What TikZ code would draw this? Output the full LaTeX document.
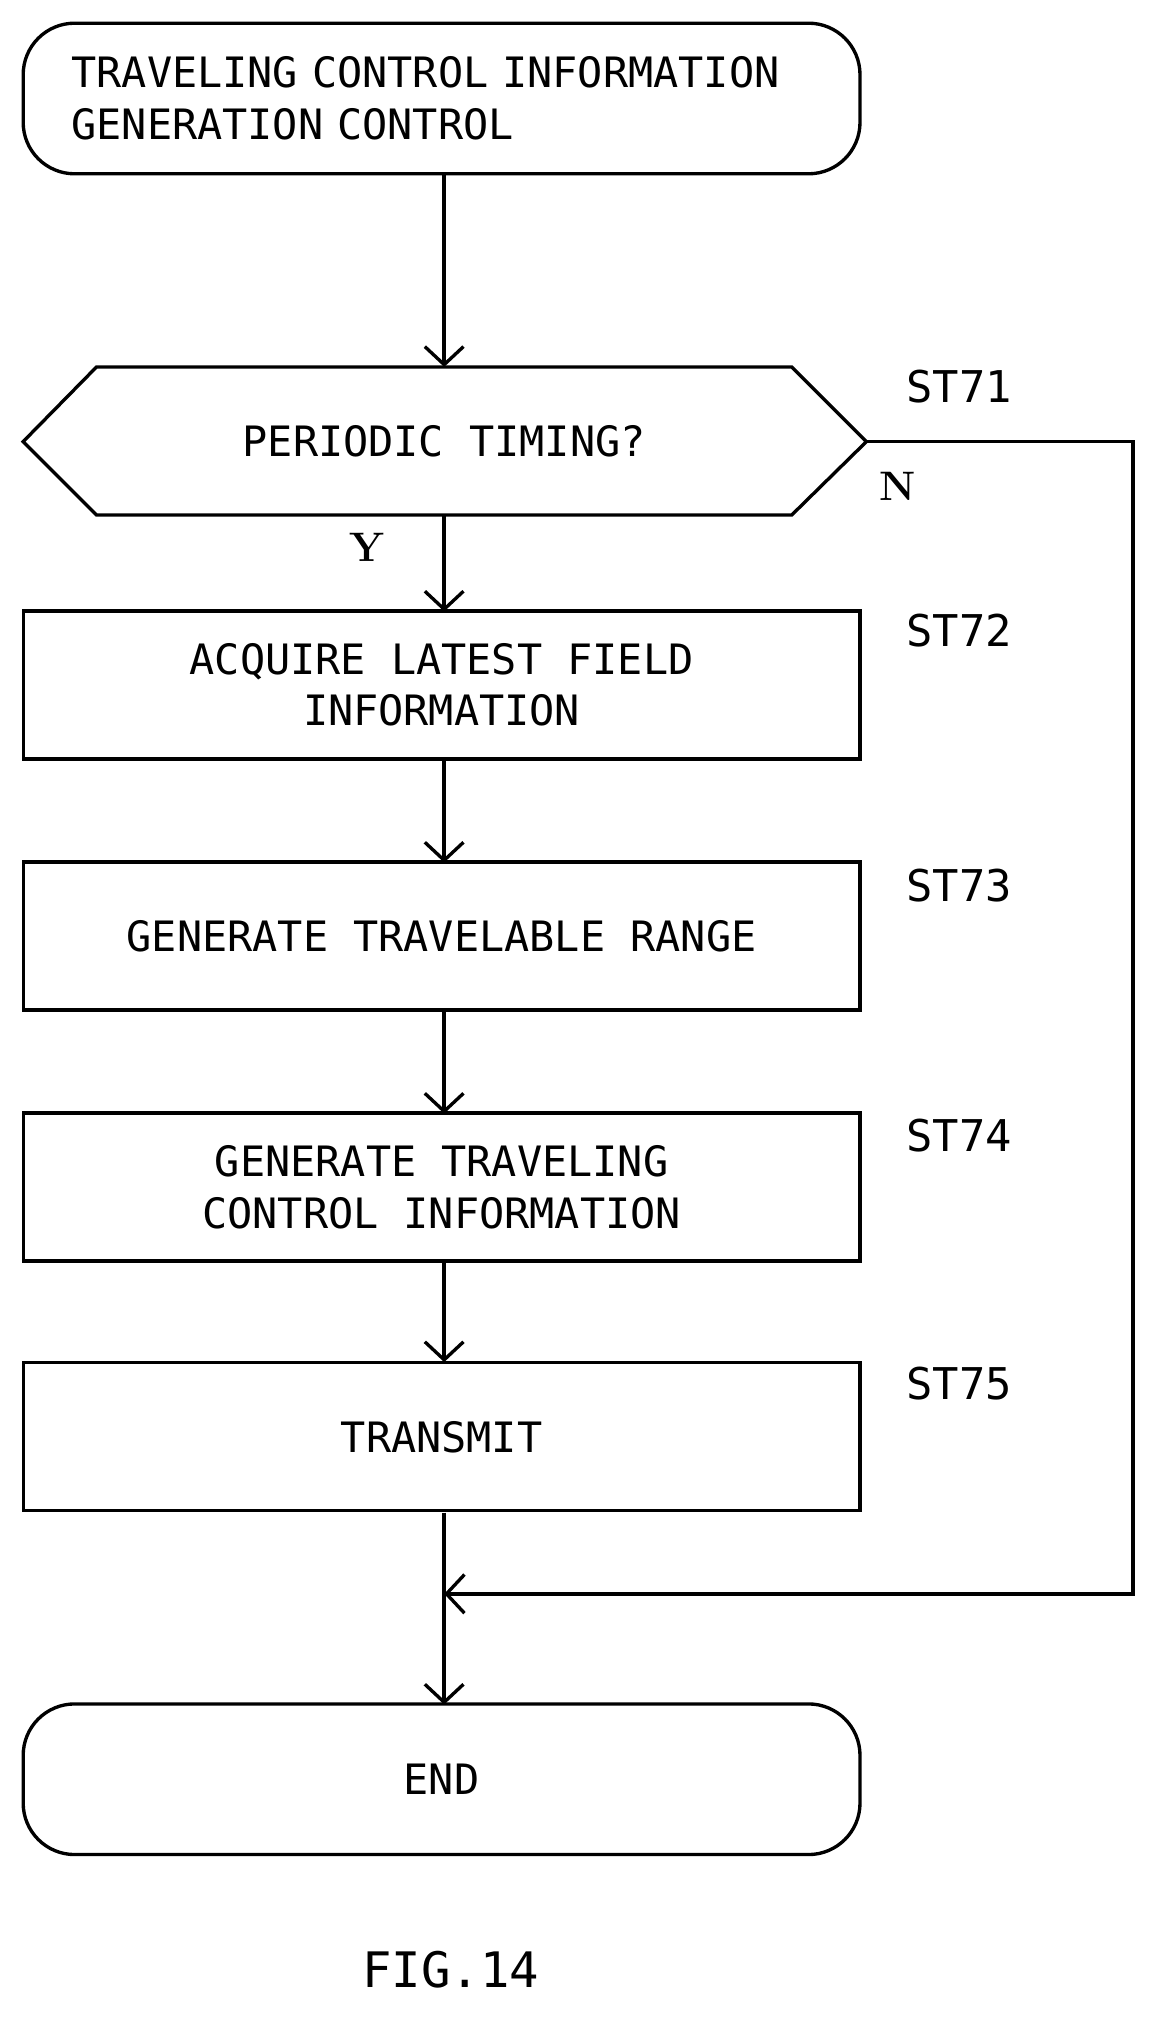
\documentclass[tikz,border=0pt]{standalone}
\usepackage{fontspec}
\setmonofont{DejaVu Sans Mono}
\usetikzlibrary{arrows.meta,shapes.misc}
\begin{document}
\begin{tikzpicture}[x=1pt,y=-1pt,line width=2.6pt,
  txt/.style={font=\fontsize{32.5}{40}\selectfont\ttfamily},
  lbl/.style={font=\fontsize{34}{40}\selectfont\ttfamily},
  yn/.style={font=\fontsize{32}{36}\selectfont\bfseries\rmfamily},
  procbox/.style={draw,minimum width=650pt,minimum height=115pt,txt,align=center,inner sep=0pt},
  term/.style={draw,rounded corners=40pt,minimum width=650pt,minimum height=117pt,txt,inner sep=0pt},
  arr/.style={-{Straight Barb[length=14pt,width=30pt,line width=2.6pt]}}]
\useasboundingbox (0,0) rectangle (905,1583);
\node[term,align=left,text width=575pt] (start) at (343,76.5) {TRAVELING CONTROL INFORMATION\\GENERATION CONTROL};
\draw (18,343) -- (75,285) -- (615,285) -- (673,343) -- (615,400) -- (75,400) -- cycle;
\coordinate (dl) at (18,343); \coordinate (dr) at (673,343);
\coordinate (dt) at (345,285); \coordinate (db) at (345,400);
\node[txt] (dtext) at (345,343) {PERIODIC TIMING?};
\node[procbox] (s72) at (343,532) {ACQUIRE LATEST FIELD\\INFORMATION};
\node[procbox] (s73) at (343,727) {GENERATE TRAVELABLE RANGE};
\node[procbox] (s74) at (343,922) {GENERATE TRAVELING\\CONTROL INFORMATION};
\node[procbox] (s75) at (343,1116) {TRANSMIT};
\node[term] (end) at (343,1382) {END};
\node[lbl] (l71) at (745,300) {ST71};
\node[lbl] (l72) at (745,490) {ST72};
\node[lbl] (l73) at (745,688) {ST73};
\node[lbl] (l74) at (745,882) {ST74};
\node[lbl] (l75) at (745,1075) {ST75};
\node[yn] (ny) at (697,378) {N};
\node[yn] (yy) at (285,425) {Y};
\node[font=\fontsize{38}{40}\selectfont\ttfamily] (fig) at (350,1530) {FIG.14};
\coordinate (mj) at (345,1238);
\coordinate (rt) at (880,343); \coordinate (rb) at (880,1238);
\draw[arr] (345,135) -- (dt);
\draw[arr] (db) -- (345,475);
\draw[arr] (345,590) -- (345,670);
\draw[arr] (345,785) -- (345,865);
\draw[arr] (345,980) -- (345,1058);
\draw[arr] (dr) -- (rt) -- (rb) -- (mj);
\draw[arr] (345,1175) -- (345,1324);
\end{tikzpicture}
\end{document}
